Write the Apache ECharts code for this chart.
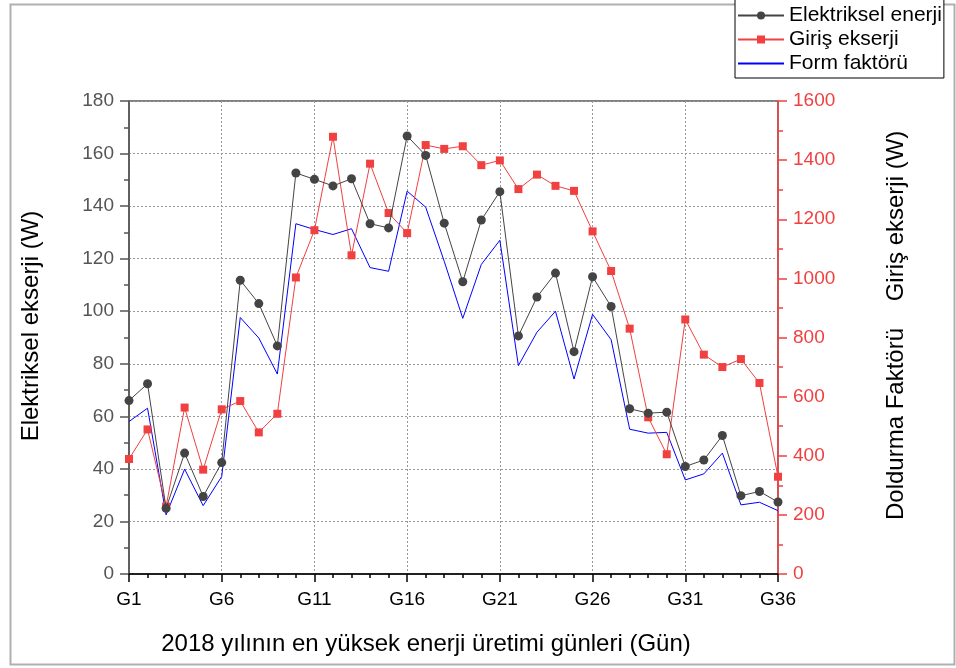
<!DOCTYPE html>
<html>
<head>
<meta charset="utf-8">
<script src="https://cdn.jsdelivr.net/npm/echarts@6/dist/echarts.min.js"></script>
<style>
html,body{margin:0;padding:0;background:#fff;}
#chart{width:956px;height:668px;}
</style>
</head>
<body>
<div id="chart"></div>
<script>
var categories = ['G1','G2','G3','G4','G5','G6','G7','G8','G9','G10','G11','G12','G13','G14','G15','G16','G17','G18','G19','G20','G21','G22','G23','G24','G25','G26','G27','G28','G29','G30','G31','G32','G33','G34','G35','G36'];
var elektrikselEnerji = [66.0, 72.4, 25.0, 46.0, 29.5, 42.4, 111.8, 102.9, 86.8, 152.6, 150.2, 147.7, 150.4, 133.3, 131.7, 166.7, 159.3, 133.5, 111.2, 134.7, 145.5, 90.6, 105.4, 114.5, 84.6, 113.1, 101.8, 62.9, 61.2, 61.6, 40.9, 43.4, 52.7, 29.8, 31.4, 27.4];
var girisEkserji = [389, 489, 228, 563, 353, 557, 585, 479, 542, 1003, 1163, 1479, 1078, 1388, 1221, 1153, 1451, 1438, 1447, 1383, 1399, 1302, 1351, 1313, 1296, 1159, 1025, 830, 530, 405, 861, 742, 700, 727, 646, 329];
var formFaktoru = [58.0, 63.1, 22.5, 39.9, 26.0, 37.1, 97.6, 89.8, 76.1, 133.3, 131.1, 129.2, 131.4, 116.6, 115.2, 145.7, 139.6, 119.0, 97.3, 117.8, 127.0, 79.3, 92.0, 100.0, 74.2, 98.8, 89.2, 55.1, 53.6, 53.9, 35.8, 38.1, 46.0, 26.3, 27.3, 24.1];
var seriesNames = ['Elektriksel enerji', 'Giriş ekserji', 'Form faktörü'];
var leftAxisName = 'Elektriksel ekserji (W)';
var rightAxisName = 'Giriş ekserji (W)';
var extraAxisName = 'Doldurma Faktörü';
var xAxisName = '2018 yılının en yüksek enerji üretimi günleri (Gün)';

var FONT = '"Liberation Sans", Arial, sans-serif';
var RED = '#f04040';
var chart = echarts.init(document.getElementById('chart'), null, {renderer: 'canvas'});
chart.setOption({
  animation: false,
  backgroundColor: '#fff',
  textStyle: {fontFamily: FONT},
  grid: {left: 129, right: 178, top: 101, bottom: 94, show: true, borderColor: '#000', borderWidth: 1, backgroundColor: 'transparent'},
  legend: {
    orient: 'vertical', left: 735, top: -1,
    backgroundColor: '#fff', borderColor: '#000', borderWidth: 1,
    padding: [6, 2, 4, 2], itemWidth: 46, itemHeight: 10, itemGap: 3,
    textStyle: {fontFamily: FONT, fontSize: 21, color: '#000', lineHeight: 21},
    data: [
      {name: seriesNames[0]},
      {name: seriesNames[1]},
      {name: seriesNames[2], itemStyle: {opacity: 0}}
    ]
  },
  xAxis: [{
    type: 'category', data: categories, boundaryGap: false,
    axisLine: {lineStyle: {color: '#000', width: 1.5}},
    axisTick: {interval: 4, length: 8, lineStyle: {color: '#000', width: 1.5}},
    axisLabel: {interval: 4, margin: 16, fontSize: 19, color: '#000', fontFamily: FONT},
    splitLine: {show: true, interval: 4, lineStyle: {color: '#999', type: [2, 2], width: 1}}
  }, {
    type: 'category', data: categories, boundaryGap: false, position: 'bottom',
    axisLine: {show: false},
    axisTick: {interval: 0, length: 4, lineStyle: {color: '#000', width: 1.5}},
    axisLabel: {show: false}, splitLine: {show: false}
  }],
  yAxis: [{
    type: 'value', min: 0, max: 180, interval: 20,
    axisLine: {show: true, lineStyle: {color: '#555', width: 1.5}},
    axisTick: {show: true, length: 9, lineStyle: {color: '#555', width: 1.5}},
    minorTick: {show: true, splitNumber: 2, length: 5, lineStyle: {color: '#555', width: 1.5}},
    axisLabel: {margin: 15, fontSize: 19, color: '#555', fontFamily: FONT},
    splitLine: {show: true, lineStyle: {color: '#999', type: [2, 2], width: 1}}
  }, {
    type: 'value', min: 0, max: 1600, interval: 200, position: 'right',
    axisLine: {show: true, lineStyle: {color: RED, width: 1.5}},
    axisTick: {show: true, length: 9, lineStyle: {color: RED, width: 1.5}},
    minorTick: {show: true, splitNumber: 2, length: 5, lineStyle: {color: RED, width: 1.5}},
    axisLabel: {margin: 15, fontSize: 19, color: RED, fontFamily: FONT, formatter: function (v) { return String(v); }},
    splitLine: {show: false}
  }],
  series: [{
    name: seriesNames[0], type: 'line', data: elektrikselEnerji, yAxisIndex: 0,
    symbol: 'circle', symbolSize: 9, z: 4,
    lineStyle: {color: '#444', width: 1}, itemStyle: {color: '#444'}
  }, {
    name: seriesNames[1], type: 'line', data: girisEkserji, yAxisIndex: 1,
    symbol: 'rect', symbolSize: 8, z: 3,
    lineStyle: {color: RED, width: 1}, itemStyle: {color: RED}
  }, {
    name: seriesNames[2], type: 'line', data: formFaktoru, yAxisIndex: 0,
    symbol: 'none', showSymbol: false, z: 2,
    lineStyle: {color: '#0000ff', width: 1}, itemStyle: {color: '#0000ff'}
  }],
  graphic: [{
    type: 'rect', left: 8, top: 2, silent: true, z: -10,
    shape: {width: 944, height: 660},
    style: {fill: 'none', stroke: '#b0b0b0', lineWidth: 2}
  }, {
    type: 'text', x: 31, y: 326, rotation: Math.PI / 2,
    style: {text: leftAxisName, font: '24px ' + FONT, fill: '#000', textAlign: 'center', textVerticalAlign: 'middle'}
  }, {
    type: 'text', x: 896, y: 216, rotation: Math.PI / 2,
    style: {text: rightAxisName, font: '24px ' + FONT, fill: '#000', textAlign: 'center', textVerticalAlign: 'middle'}
  }, {
    type: 'text', x: 896, y: 424, rotation: Math.PI / 2,
    style: {text: extraAxisName, font: '24px ' + FONT, fill: '#000', textAlign: 'center', textVerticalAlign: 'middle'}
  }, {
    type: 'text', x: 426, y: 644,
    style: {text: xAxisName, font: '24px ' + FONT, fill: '#000', textAlign: 'center', textVerticalAlign: 'middle'}
  }]
});
</script>
</body>
</html>
